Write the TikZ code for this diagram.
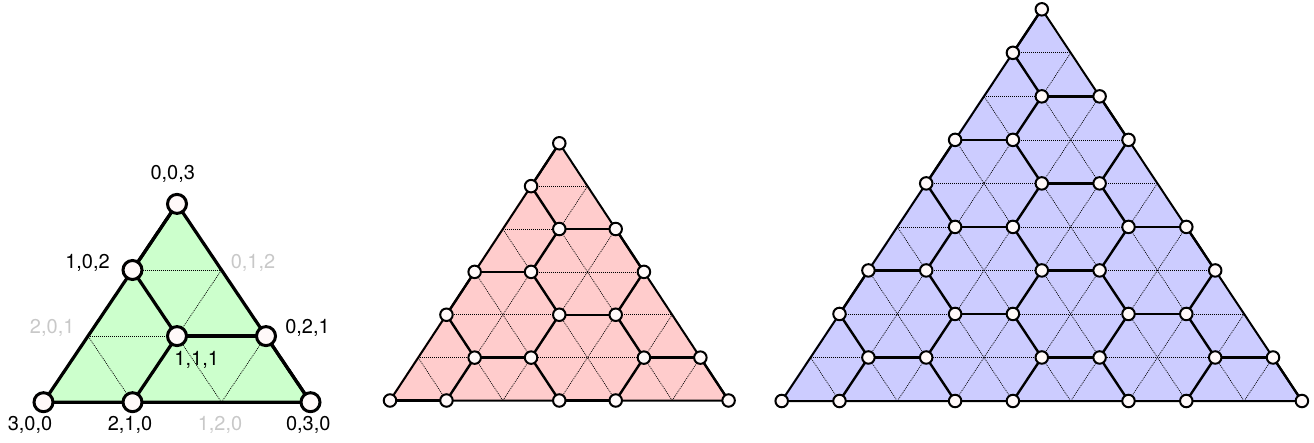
\documentclass[tikz,border=0pt]{standalone}
\usepackage{fontspec}
\setmainfont{TeX Gyre Heros}
\definecolor{gfill}{RGB}{204,255,204}
\definecolor{pfill}{RGB}{255,204,204}
\definecolor{bfill}{RGB}{204,204,255}
\definecolor{dotfill}{RGB}{255,249,249}
\definecolor{lgray}{RGB}{200,200,200}
\tikzset{
  gridln/.style={line width=0.7pt, black, dash pattern=on 1pt off 1pt},
  outln/.style={line width=2pt, black, line join=round},
  hexln/.style={line width=2.4pt, black, line cap=round},
  dotc/.style={circle, draw=black, fill=dotfill, line width=2pt, inner sep=0pt, minimum size=12.5pt},
  lbl/.style={anchor=base, inner sep=0pt, font=\fontsize{20}{24}\selectfont, text=black},
  glbl/.style={lbl, text=lgray}
}
% #1 name, #2 n, #3 x0, #4 y0, #5 ux, #6 uy, #7 fill colour
\newcommand{\TriDraw}[7]{%
  \pgfmathtruncatemacro\nn{#2}%
  \pgfmathtruncatemacro\nm{#2-1}%
  \foreach \k in {0,...,\nn}{%
    \pgfmathtruncatemacro\jmax{\nn-\k}%
    \foreach \j in {0,...,\jmax}{%
      \coordinate (#1-\j-\k) at ({#3+(\j+\k/2)*#5},{#4-\k*#6});
    }%
  }%
  \fill[#7] ([xshift=-1.5pt]#1-0-0) -- ([xshift=-1.5pt]#1-0-\nn) -- (#1-\nn-0) -- cycle;
  \foreach \k in {1,...,\nm}{%
    \pgfmathtruncatemacro\jm{\nn-\k}%
    \draw[gridln] (#1-0-\k) -- (#1-\jm-\k);
  }%
  \foreach \j in {1,...,\nm}{%
    \pgfmathtruncatemacro\km{\nn-\j}%
    \draw[gridln] (#1-\j-0) -- (#1-\j-\km);
  }%
  \foreach \m in {1,...,\nm}{%
    \draw[gridln] (#1-\m-0) -- (#1-0-\m);
  }%
  \draw[outln] (#1-0-0) -- (#1-\nn-0) -- (#1-0-\nn) -- cycle;
  \foreach \k in {0,...,\nn}{%
    \pgfmathtruncatemacro\jmax{\nn-\k}%
    \foreach \j in {0,...,\jmax}{%
      \pgfmathtruncatemacro\cl{mod(\nn-2*\j-\k+60,3)}%
      \ifnum\cl=0
        \ifnum\j<\jmax \pgfmathtruncatemacro\ja{\j+1}\draw[hexln] (#1-\j-\k) -- (#1-\ja-\k);\fi
        \ifnum\k>0 \pgfmathtruncatemacro\kb{\k-1}\draw[hexln] (#1-\j-\k) -- (#1-\j-\kb);\fi
        \ifnum\j>0 \pgfmathtruncatemacro\jc{\j-1}\pgfmathtruncatemacro\kc{\k+1}\draw[hexln] (#1-\j-\k) -- (#1-\jc-\kc);\fi
      \fi
    }%
  }%
  \foreach \k in {0,...,\nn}{%
    \pgfmathtruncatemacro\jmax{\nn-\k}%
    \foreach \j in {0,...,\jmax}{%
      \pgfmathtruncatemacro\cl{mod(\nn-2*\j-\k+60,3)}%
      \ifnum\cl<2 \node[dotc] (#1-p-\j-\k) at (#1-\j-\k) {};\fi
    }%
  }%
}
\begin{document}
\begin{tikzpicture}[x=1pt,y=-1pt]
\useasboundingbox (0,0) rectangle (1314,443);
\begin{scope}[outln/.style={line width=3.2pt, black, line join=round},
  hexln/.style={line width=3.2pt, black, line cap=round},
  dotc/.style={circle, draw=black, fill=dotfill, line width=3pt, inner sep=0pt, minimum size=19pt}]
\TriDraw{L}{3}{43.5}{402.2}{89}{66.1}{gfill}
\end{scope}
\TriDraw{M}{6}{390}{400.5}{56.43}{42.87}{pfill}
\TriDraw{R}{9}{781.7}{401}{57.8}{43.52}{bfill}
% labels of the first triangle
\node[lbl]  (t003) at (172.8,179.3) {0,0,3};
\node[lbl]  (t102) at (87.5,268.8) {1,0,2};
\node[glbl] (t012) at (253,268.8) {0,1,2};
\node[glbl] (t201) at (52.2,334) {2,0,1};
\node[lbl]  (t021) at (307.5,334) {0,2,1};
\node[lbl]  (t111) at (196.7,365.5) {1,1,1};
\node[lbl]  (t300) at (30,430.5) {3,0,0};
\node[lbl]  (t210) at (130,430.5) {2,1,0};
\node[glbl] (t120) at (220,430.5) {1,2,0};
\node[lbl]  (t030) at (308.3,430.5) {0,3,0};
\end{tikzpicture}
\end{document}
